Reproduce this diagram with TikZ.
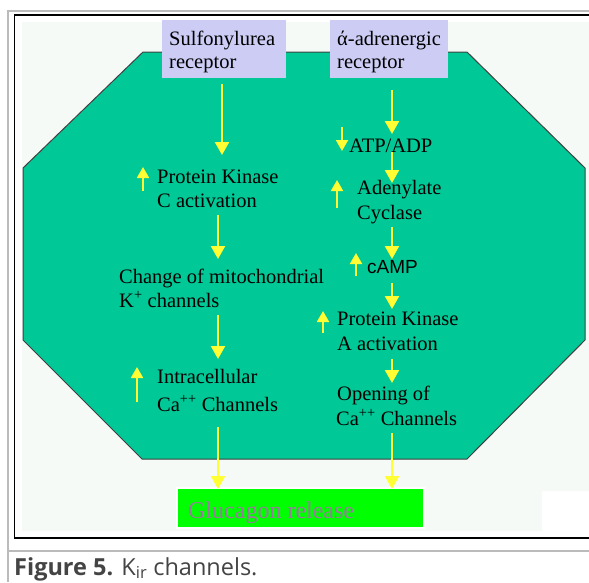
\documentclass[tikz,border=0pt]{standalone}
\usepackage{fontspec}
\setmainfont{Liberation Serif}
\newfontfamily\capfont{Open Sans}
\newfontfamily\arialfont{Liberation Sans}
\usetikzlibrary{arrows.meta}
\definecolor{octfill}{HTML}{00C896}
\definecolor{lightbg}{HTML}{F5FAF7}
\definecolor{recbox}{HTML}{CCCCF5}
\definecolor{arrowyel}{HTML}{FFFF33}
\definecolor{glugreen}{HTML}{00FF00}
\definecolor{glutext}{HTML}{9A7A9E}
\definecolor{capgray}{HTML}{444444}
\definecolor{framegray}{HTML}{BBBBBB}
\begin{document}
\begin{tikzpicture}[x=1pt,y=-1pt,
  txt/.style={font=\fontsize{20.5}{24}\selectfont, inner sep=0pt, anchor=base west, text=black},
  mainarrow/.style={draw=arrowyel, line width=2.3pt, -{Triangle[width=14pt,length=13pt]}},
  smallarrow/.style={draw=arrowyel, line width=2pt, -{Triangle[width=12pt,length=11pt]}},
  recstyle/.style={fill=recbox, draw=none}
]
\useasboundingbox (0,0) rectangle (589,582);
\fill[white] (0,0) rectangle (589,582);
% frames
\draw[framegray, line width=2pt] (8,582) -- (8,11) -- (589,11);
\draw[framegray, line width=2pt] (8,551) -- (589,551);
\draw[black, line width=1.5pt] (590,15) -- (14.5,15) -- (14.5,538) -- (590,538);
% light background
\fill[lightbg] (22,22) -- (589,22) -- (589,491) -- (542,491) -- (542,531) -- (22,531) -- cycle;
% octagon
\filldraw[fill=octfill, draw=black!75, line width=1pt]
  (143,52) -- (467,52) -- (585,168) -- (585,340) -- (467,459) -- (142,459) -- (23,340) -- (23,168) -- cycle;
% receptor boxes
\fill[recstyle] (162,20) rectangle (286,78);
\fill[recstyle] (330,20) rectangle (448,78);
\node[txt] (sul1) at (169,45) {Sulfonylurea};
\node[txt] (sul2) at (169,68) {receptor};
\node[txt] (alp1) at (337,45) {ά-adrenergic};
\node[txt] (alp2) at (337,68) {receptor};
% left column
\node[txt] (pkc1) at (157,183) {Protein Kinase};
\node[txt] (pkc2) at (157,207) {C activation};
\node[txt] (mit1) at (119,283) {Change of mitochondrial};
\node[txt] (mit2) at (119,307) {K\textsuperscript{+} channels};
\node[txt] (ica1) at (157,383) {Intracellular};
\node[txt] (ica2) at (157,411) {Ca\textsuperscript{++} Channels};
% right column
\node[txt] (atp) at (349,152) {ATP/ADP};
\node[txt] (ade1) at (357,194) {Adenylate};
\node[txt] (ade2) at (357,219) {Cyclase};
\node[txt, font=\arialfont\fontsize{19}{22}\selectfont] (camp) at (367,273) {cAMP};
\node[txt] (pka1) at (337,325) {Protein Kinase};
\node[txt] (pka2) at (337,350) {A activation};
\node[txt] (opn1) at (337,400) {Opening of};
\node[txt] (opn2) at (336,425) {Ca\textsuperscript{++} Channels};
% glucagon
\fill[white] (176,487) rectangle (425,529);
\fill[glugreen] (178,489) rectangle (423,527);
\node[txt, font=\fontsize{24}{28}\selectfont, text=glutext] (glu) at (188,518) {Glucagon release};
% caption
\node[inner sep=0pt, anchor=base west, text=capgray, font=\capfont\fontsize{23.5}{27}\selectfont] (cap) at (14,575) {\textbf{Figure 5.} K\textsubscript{ir} channels.};
% arrow coordinates
\coordinate (la1) at (222,84);  \coordinate (lb1) at (222,155);
\coordinate (la2) at (218,215); \coordinate (lb2) at (218,259);
\coordinate (la3) at (218,315); \coordinate (lb3) at (218,359);
\coordinate (la4) at (218,427); \coordinate (lb4) at (218,489);
\coordinate (ra1) at (392,90);  \coordinate (rb1) at (392,134);
\coordinate (ra2) at (392,152); \coordinate (rb2) at (392,183);
\coordinate (ra3) at (392,227); \coordinate (rb3) at (392,259);
\coordinate (ra4) at (392,283); \coordinate (rb4) at (392,309);
\coordinate (ra5) at (392,359); \coordinate (rb5) at (392,383);
\coordinate (ra6) at (392,433); \coordinate (rb6) at (392,489);
\foreach \i in {1,2,3,4} {\draw[mainarrow] (la\i) -- (lb\i);}
\foreach \i in {1,2,3,4,5,6} {\draw[mainarrow] (ra\i) -- (rb\i);}
% small indicator arrows
\coordinate (s1a) at (143,191); \coordinate (s1b) at (143,167);
\coordinate (s2a) at (137,402); \coordinate (s2b) at (137,367);
\coordinate (s3a) at (342,127); \coordinate (s3b) at (342,151);
\coordinate (s4a) at (337,208); \coordinate (s4b) at (337,180);
\coordinate (s5a) at (356,276); \coordinate (s5b) at (356,253);
\coordinate (s6a) at (323,333); \coordinate (s6b) at (323,311);
\foreach \i in {1,...,6} {\draw[smallarrow] (s\i a) -- (s\i b);}
\end{tikzpicture}
\end{document}
